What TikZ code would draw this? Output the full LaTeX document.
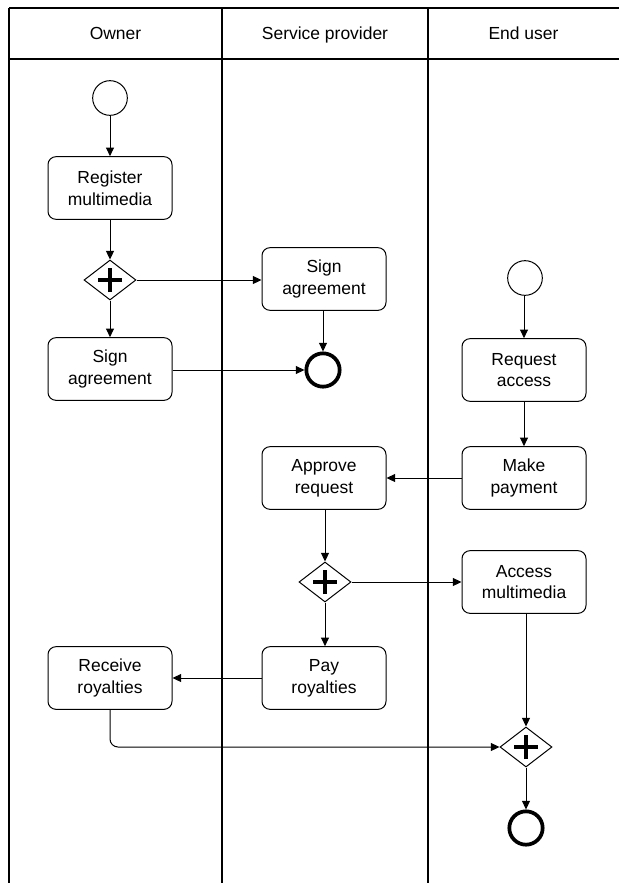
\documentclass[tikz,border=0pt]{standalone}
\usepackage{fontspec}
\setmainfont{Liberation Sans}
\usetikzlibrary{arrows.meta,shapes.geometric}
\begin{document}
\begin{tikzpicture}[x=0.75pt,y=-0.75pt,
  font=\fontsize{13.1pt}{16.2pt}\selectfont,
  lane/.style={line width=1.5pt},
  task/.style={draw,line width=0.75pt,rounded corners=6pt,minimum width=93pt,minimum height=47pt,align=center,inner sep=0pt},
  startev/.style={draw,circle,line width=0.75pt,minimum size=26pt,inner sep=0pt},
  endev/.style={draw,circle,line width=2.8pt,minimum size=25pt,inner sep=0pt},
  gate/.style={draw,diamond,line width=0.75pt,minimum width=39pt,minimum height=30pt,inner sep=0pt,aspect=1.3,
    path picture={\draw[line width=3pt] ([xshift=-9pt]path picture bounding box.center) -- ([xshift=9pt]path picture bounding box.center);
                  \draw[line width=3pt] ([yshift=-9pt]path picture bounding box.center) -- ([yshift=9pt]path picture bounding box.center);}},
  flow/.style={line width=0.75pt,-{Triangle[length=6.5pt,width=6pt]}},
  hdr/.style={inner sep=0pt,anchor=base}]
\useasboundingbox (0,0) rectangle (619,883);
% lanes
\draw[lane] (9,8) -- (619,8);
\draw[lane] (9,59) -- (619,59);
\draw[lane] (9,8) -- (9,883);
\draw[lane] (222,8) -- (222,883);
\draw[lane] (428,8) -- (428,883);
\node[hdr] (h1) at (115.5,39) {Owner};
\node[hdr] (h2) at (325,39) {Service provider};
\node[hdr] (h3) at (523.5,39) {End user};
% nodes
\node[startev] (startO) at (110,98) {};
\node[task] (reg) at (110,188) {Register\\multimedia};
\node[gate] (g1) at (110,280) {};
\node[task] (signO) at (110,369) {Sign\\agreement};
\node[task] (signS) at (324,279) {Sign\\agreement};
\node[endev] (endS) at (323,370) {};
\node[startev] (startE) at (525,278) {};
\node[task] (req) at (524,370) {Request\\access};
\node[task] (pay) at (524,478) {Make\\payment};
\node[task] (appr) at (324,478) {Approve\\request};
\node[gate] (g2) at (325,582) {};
\node[task] (acc) at (524,582) {Access\\multimedia};
\node[task] (payr) at (324,678) {Pay\\royalties};
\node[task] (recv) at (110,678) {Receive\\royalties};
\node[gate] (g3) at (526,747) {};
\node[endev] (endE) at (526,828) {};
% flows
\draw[flow] (startO) -- (reg);
\draw[flow] (reg) -- (g1);
\draw[flow] (g1) -- (signO);
\draw[flow] (g1.east) -- (signS.west |- g1.east);
\draw[flow] (signS.south -| endS) -- (endS);
\draw[flow] (signO.east |- endS) -- (endS.west);
\draw[flow] (startE.south -| req) -- (req);
\draw[flow] (req) -- (pay);
\draw[flow] (pay.west) -- (appr.east);
\draw[flow] (appr.south -| g2) -- (g2);
\draw[flow] (g2.east) -- (acc.west |- g2.east);
\draw[flow] (g2.south) -- (payr.north -| g2.south);
\draw[flow] (payr.west) -- (recv.east);
\draw[flow] (acc.south -| g3) -- (g3.north);
\draw[flow,rounded corners=6pt] (recv.south) -- (recv.south |- g3.west) -- (g3.west);
\draw[flow] (g3.south) -- (endE.north);
\end{tikzpicture}
\end{document}
